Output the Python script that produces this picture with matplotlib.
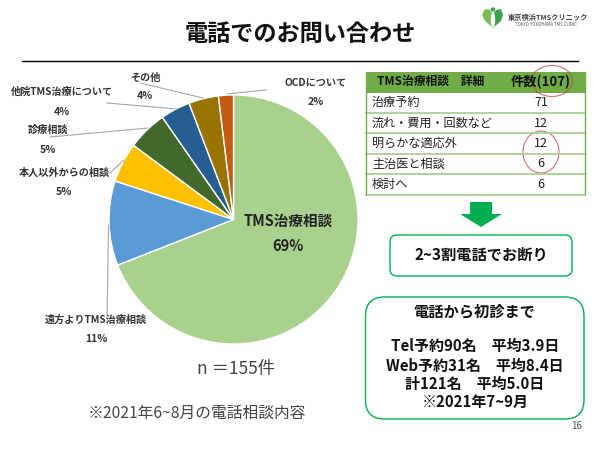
import matplotlib
matplotlib.use('Agg')
import matplotlib.pyplot as plt
from matplotlib.patches import Rectangle, FancyBboxPatch, Ellipse, Polygon

plt.rcParams['font.family'] = ['Noto Sans CJK JP', 'DejaVu Sans']

# pie data (count out of n=155)
categories = ['TMS治療相談', '遠方よりTMS治療相談', '本人以外からの相談', '診療相談',
              '他院TMS治療について', 'その他', 'OCDについて']
counts = [107, 17, 8, 8, 6, 6, 3]
percent_labels = ['69%', '11%', '5%', '5%', '4%', '4%', '2%']
colors = ['#A9D18E', '#5B9BD5', '#FFC000', '#43682B', '#255E91', '#997300', '#C55A11']

# table data
table_head = ['TMS治療相談　詳細', '件数(107)']
table_rows = ['治療予約', '流れ・費用・回数など', '明らかな適応外', '主治医と相談', '検討へ']
table_counts = [71, 12, 12, 6, 6]

summary_lines = ['Tel予約90名　平均3.9日', 'Web予約31名　平均8.4日', '計121名　平均5.0日', '※2021年7~9月']

fig = plt.figure(figsize=(6, 4.5), dpi=100)
bg = fig.add_axes([0, 0, 1, 1])
bg.set_xlim(0, 600)
bg.set_ylim(450, 0)
bg.axis('off')

# title
bg.text(300, 34, '電話でのお問い合わせ', fontsize=16.7, fontweight='bold', ha='center', va='center', color='#111111')
bg.plot([22, 578], [60.5, 60.5], color='black', lw=1)

# logo
bg.add_patch(Polygon([(493, 28), (485, 21), (482, 15), (485, 9), (490, 10), (493, 14)], facecolor='#7DBB5A', edgecolor='none'))
bg.add_patch(Polygon([(493, 28), (501, 21), (503, 15), (501, 9), (496, 10), (493, 14)], facecolor='#3FA24A', edgecolor='none'))
bg.add_patch(Ellipse((493, 20), 3, 13, color='white'))
bg.add_patch(Ellipse((493, 9.5), 3, 3, color='#3FA24A'))
bg.text(508, 17.5, '東京横浜TMSクリニック', fontsize=5.2, fontweight='bold', color='#444444', va='center')
bg.text(515, 24.5, 'TOKYO YOKOHAMA TMS CLINIC', fontsize=3.1, color='#555555', va='center')

# pie, axes placed in figure fraction
cx, cy, r = 233.5, 219.5, 124.5
pie_ax = fig.add_axes([(cx - r) / 600, 1 - (cy + r) / 450, 2 * r / 600, 2 * r / 450])
pie_ax.pie(counts, colors=colors, startangle=90, counterclock=False, radius=1,
           wedgeprops={'edgecolor': 'white', 'linewidth': 1})
pie_ax.set_xlim(-1, 1)
pie_ax.set_ylim(-1, 1)

# leader lines
bg.set_zorder(2)
bg.patch.set_visible(False)
for xs, ys in [([227, 266], [94, 90]),
               ([203, 140], [98, 83]),
               ([177, 107], [109, 103]),
               ([148, 50], [128, 137]),
               ([124, 110], [160, 173]),
               ([108.5, 107], [225, 325])]:
    bg.plot(xs, ys, color='#A6A6A6', lw=0.8)

# pie labels
bg.text(288, 221, categories[0], fontsize=10.5, fontweight='bold', ha='center', va='center', color='#222222')
bg.text(288, 246, percent_labels[0], fontsize=10.5, fontweight='bold', ha='center', va='center', color='#222222')
label_pos = [(96, 320, 96, 339), (64, 173, 64, 192), (48, 130, 48, 150),
             (62, 92, 62, 112), (145, 78, 145, 96), (316, 83, 316, 102)]
for i, (lx, ly, px, py) in enumerate(label_pos):
    bg.text(lx, ly, categories[i + 1], fontsize=7.3, fontweight='bold', ha='center', va='center', color='#333333',
            bbox=dict(facecolor='white', edgecolor='none', pad=0.5, alpha=0.0 if i else 0.6))
    bg.text(px, py, percent_labels[i + 1], fontsize=7.5, fontweight='bold', ha='center', va='center', color='#333333')

bg.text(236, 369, 'n ＝155件', fontsize=12.5, ha='center', va='center', color='#444444')
bg.text(197.5, 413, '※2021年6~8月の電話相談内容', fontsize=11.3, ha='center', va='center', color='#444444')

# table
tx0, tx1 = 365.5, 584.5
bg.add_patch(Rectangle((tx0, 71.5), tx1 - tx0, 21, facecolor='#70AD47', edgecolor='none'))
bg.text(431, 81.5, table_head[0], fontsize=8.5, fontweight='bold', ha='center', va='center', color='#111111')
bg.text(541, 81.5, table_head[1], fontsize=9.5, fontweight='bold', ha='center', va='center', color='#111111')
row_h = 20.4
for i, (name, val) in enumerate(zip(table_rows, table_counts)):
    y = 92.5 + i * row_h
    bg.plot([tx0, tx1], [y + row_h, y + row_h], color='#A9D18E', lw=1.3)
    bg.text(372, y + row_h / 2, name, fontsize=8.7, ha='left', va='center', color='#222222')
    bg.text(541, y + row_h / 2, str(val), fontsize=9, ha='center', va='center', color='#222222')
bg.plot([tx0, tx0], [71.5, 194], color='#70AD47', lw=1)
bg.plot([tx1, tx1], [71.5, 194], color='#70AD47', lw=1)

# red hand drawn circles
bg.add_patch(Ellipse((552, 81), 41, 31, fill=False, edgecolor='#C0504D', lw=0.8, alpha=0.8))
bg.add_patch(Ellipse((541, 152), 36, 42, fill=False, edgecolor='#C0504D', lw=0.8, alpha=0.8))

# arrow
bg.add_patch(Polygon([(470, 202), (492, 202), (492, 214), (502, 214), (481, 227), (460, 214), (470, 214)],
                     facecolor='#00B050', edgecolor='none'))

# boxes
bg.add_patch(FancyBboxPatch((390, 235), 182, 41, boxstyle='round,pad=0,rounding_size=7',
                            facecolor='white', edgecolor='#00B050', lw=1))
bg.text(481, 255, '2~3割電話でお断り', fontsize=11, fontweight='bold', ha='center', va='center', color='#111111')
bg.add_patch(FancyBboxPatch((365.5, 297), 218.5, 122, boxstyle='round,pad=0,rounding_size=19',
                            facecolor='white', edgecolor='#00B050', lw=1))
bg.text(474, 311, '電話から初診まで', fontsize=11, fontweight='bold', ha='center', va='center', color='#111111')
for y, line in zip([346, 366, 384, 402], summary_lines):
    bg.text(475, y, line, fontsize=10.8, fontweight='bold', ha='center', va='center', color='#111111')

bg.text(577, 426, '16', fontsize=7, ha='center', va='center', color='#44546A')

fig.savefig('out.png', dpi=100)
